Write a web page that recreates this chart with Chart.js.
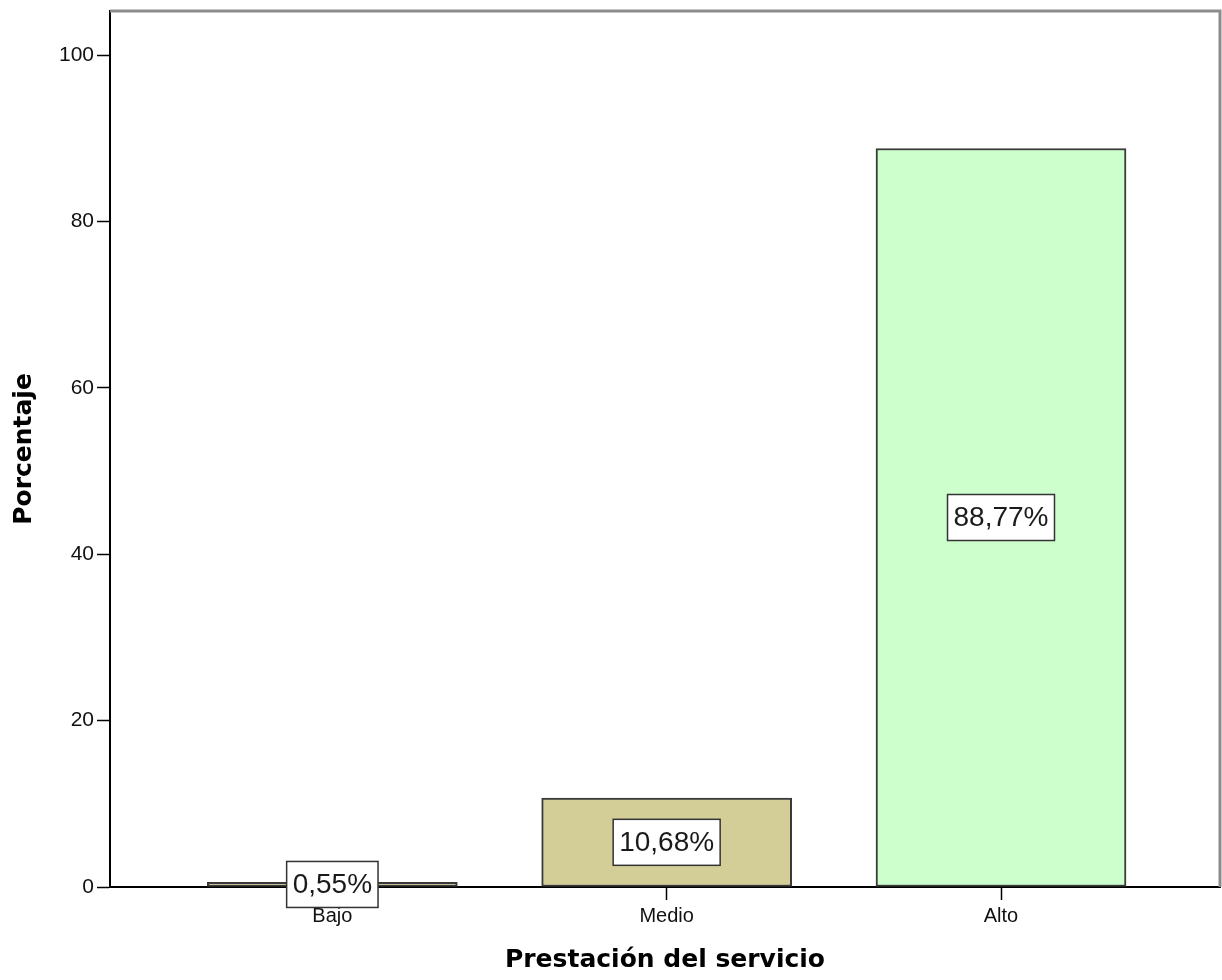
<!DOCTYPE html>
<html>
<head>
<meta charset="utf-8">
<script src="https://cdn.jsdelivr.net/npm/chart.js@4"></script>
<style>
  html, body { margin: 0; padding: 0; background: #fff; }
  #wrap { width: 1222px; height: 980px; }
</style>
</head>
<body>
<div id="wrap"><canvas id="barChart" width="1222" height="980"></canvas></div>
<script>
// Datos del grafico
const categorias = ['Bajo', 'Medio', 'Alto'];
const porcentajes = [0.55, 10.68, 88.77];
const coloresBarras = ['#d3ce97', '#d3ce97', '#ccffcc'];
const ticksY = [0, 20, 40, 60, 80, 100];

// Marco superior y derecho del area de trazado (estilo SPSS)
const marcoPlugin = {
    id: 'marco',
    afterDraw(chart) {
        const { ctx, chartArea: a } = chart;
        ctx.save();
        ctx.strokeStyle = '#8c8c8c';
        ctx.lineWidth = 3;
        ctx.beginPath();
        ctx.moveTo(a.left, a.top);
        ctx.lineTo(a.right, a.top);
        ctx.lineTo(a.right, a.bottom);
        ctx.stroke();
        ctx.restore();
    }
};

// Etiquetas de porcentaje en el centro de cada barra
const etiquetasPlugin = {
    id: 'etiquetas',
    afterDatasetsDraw(chart) {
        const { ctx } = chart;
        const meta = chart.getDatasetMeta(0);
        ctx.save();
        ctx.font = '28px "Liberation Sans", Arial, sans-serif';
        ctx.textAlign = 'center';
        ctx.textBaseline = 'middle';
        meta.data.forEach((bar, i) => {
            const texto = porcentajes[i].toFixed(2).replace('.', ',') + '%';
            const cx = bar.x;
            const cy = (bar.y + bar.base) / 2;
            const w = ctx.measureText(texto).width + 12;
            const h = 46;
            ctx.fillStyle = '#ffffff';
            ctx.fillRect(cx - w / 2, cy - h / 2, w, h);
            ctx.strokeStyle = '#333333';
            ctx.lineWidth = 1.5;
            ctx.strokeRect(cx - w / 2, cy - h / 2, w, h);
            ctx.fillStyle = '#1a1a1a';
            ctx.fillText(texto, cx, cy + 1);
        });
        ctx.restore();
    }
};

const ctx = document.getElementById('barChart').getContext('2d');
const chart = new Chart(ctx, {
    type: 'bar',
    data: {
        datasets: [{
            data: porcentajes.map((v, i) => ({ x: i, y: v })),
            backgroundColor: coloresBarras,
            borderColor: '#3a3a3a',
            borderWidth: 2,
            borderSkipped: false,
            barThickness: 250
        }]
    },
    options: {
        responsive: false,
        animation: false,
        layout: {
            padding: { top: 11, right: 2, left: 0, bottom: 0 }
        },
        plugins: {
            legend: { display: false },
            tooltip: { enabled: false }
        },
        scales: {
            x: {
                type: 'linear',
                offset: false,
                min: -0.665,
                max: 2.655,
                afterBuildTicks: axis => {
                    axis.ticks = categorias.map((c, i) => ({ value: i }));
                },
                afterFit: scale => {
                    scale.height = 93;
                    scale.paddingLeft = 0;
                    scale.paddingRight = 0;
                },
                ticks: {
                    callback: v => categorias[v],
                    color: '#111',
                    padding: 4,
                    font: { family: '"Liberation Sans", Arial, sans-serif', size: 20 }
                },
                grid: {
                    offset: false,
                    drawOnChartArea: false,
                    tickLength: 13,
                    tickColor: '#000',
                    tickWidth: 1.5
                },
                border: { color: '#000', width: 2 },
                title: {
                    display: true,
                    text: 'Prestación del servicio',
                    color: '#000',
                    padding: { top: 0, bottom: 5 },
                    font: { family: '"DejaVu Sans", sans-serif', size: 25, weight: 'bold' }
                }
            },
            y: {
                min: 0,
                max: 105.3,
                afterBuildTicks: axis => {
                    axis.ticks = ticksY.map(v => ({ value: v }));
                },
                afterFit: scale => {
                    scale.width = 110;
                    scale.paddingTop = 0;
                    scale.paddingBottom = 0;
                },
                ticks: {
                    color: '#111',
                    padding: 3,
                    font: { family: '"Liberation Sans", Arial, sans-serif', size: 21 }
                },
                grid: {
                    drawOnChartArea: false,
                    tickLength: 13,
                    tickColor: '#000',
                    tickWidth: 1.5
                },
                border: { color: '#000', width: 2 },
                title: {
                    display: true,
                    text: 'Porcentaje',
                    color: '#000',
                    padding: { top: 9, bottom: 0 },
                    font: { family: '"DejaVu Sans", sans-serif', size: 25, weight: 'bold' }
                }
            }
        }
    },
    plugins: [marcoPlugin, etiquetasPlugin]
});
</script>
</body>
</html>
